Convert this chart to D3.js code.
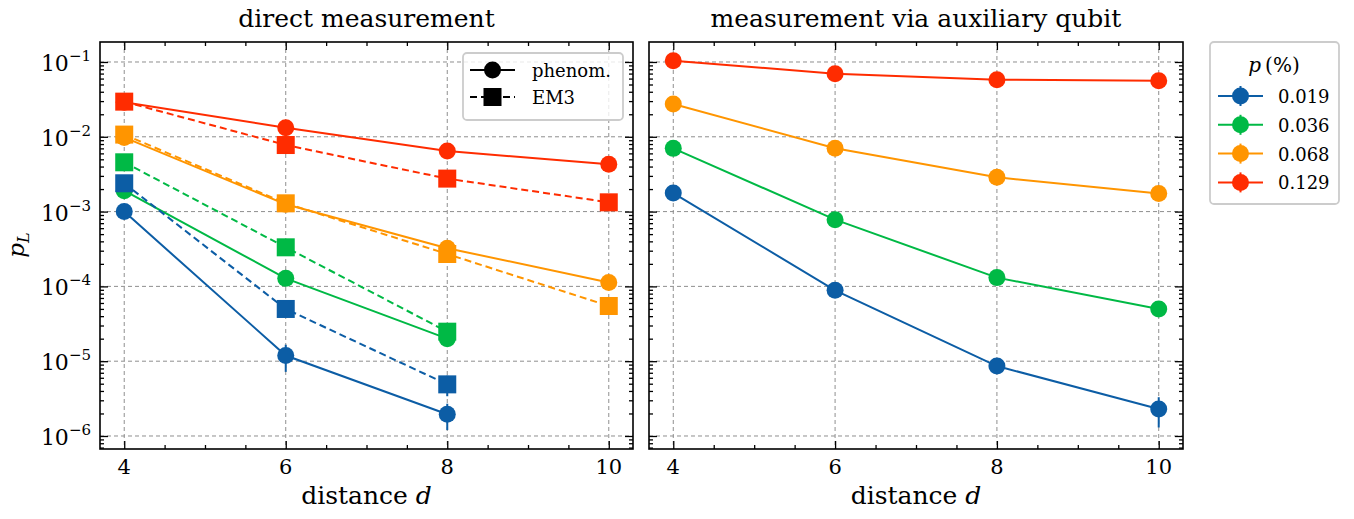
<!DOCTYPE html>
<html>
<head>
<meta charset="utf-8">
<script src="https://cdn.jsdelivr.net/npm/d3@7"></script>
<style>
  body { margin: 0; background: #fff; }
  text { font-family: "DejaVu Serif", serif; fill: #000; }
</style>
</head>
<body>
<svg id="chart" width="1354" height="519"></svg>
<script>
// ---- data -------------------------------------------------------------
const distances = [4, 6, 8, 10];
const pLabels = ["0.019", "0.036", "0.068", "0.129"];
const seriesColors = ["#0C5DA5", "#00B945", "#FF9500", "#FF2C00"];
const yMajorTicks = [1e-6, 1e-5, 1e-4, 1e-3, 1e-2, 1e-1];
const yTickExponents = ["−6", "−5", "−4", "−3", "−2", "−1"];
const xMajorTicks = [4, 6, 8, 10];

// direct measurement, phenomenological noise model (solid, circles)
const directPhenom019 = [1.0e-3, 1.19e-5, 1.95e-6];
const directPhenom036 = [1.9e-3, 1.28e-4, 2.0e-5];
const directPhenom068 = [9.8e-3, 1.25e-3, 3.24e-4, 1.13e-4];
const directPhenom129 = [2.9e-2, 1.32e-2, 6.46e-3, 4.28e-3];
const directPhenomErr019 = [6e-5, 4.7e-6, 0.75e-6];
const directPhenomErr036 = [1.2e-4, 1.6e-5, 3e-6];
const directPhenomErr068 = [3e-4, 5e-5, 1.5e-5, 8e-6];
const directPhenomErr129 = [5e-4, 2.5e-4, 1e-4, 8e-5];

// direct measurement, EM3 noise model (dashed, squares)
const directEM3_019 = [2.39e-3, 4.99e-5, 4.9e-6];
const directEM3_036 = [4.56e-3, 3.33e-4, 2.48e-5];
const directEM3_068 = [1.07e-2, 1.29e-3, 2.71e-4, 5.47e-5];
const directEM3_129 = [2.95e-2, 7.76e-3, 2.76e-3, 1.33e-3];
const directEM3Err019 = [1e-4, 5e-6, 1.5e-6];
const directEM3Err036 = [1.5e-4, 2e-5, 3.5e-6];
const directEM3Err068 = [3e-4, 6e-5, 1.5e-5, 5e-6];
const directEM3Err129 = [6e-4, 2.5e-4, 9e-5, 5e-5];

// measurement via auxiliary qubit (solid, circles)
const aux019 = [1.77e-3, 8.85e-5, 8.6e-6, 2.3e-6];
const aux036 = [7.0e-3, 7.8e-4, 1.31e-4, 4.99e-5];
const aux068 = [2.75e-2, 7.01e-3, 2.87e-3, 1.74e-3];
const aux129 = [1.04e-1, 6.98e-2, 5.8e-2, 5.6e-2];
const auxErr019 = [1e-4, 8e-6, 1.5e-6, 1.0e-6];
const auxErr036 = [2e-4, 4e-5, 1.2e-5, 6e-6];
const auxErr068 = [5e-4, 2e-4, 1e-4, 7e-5];
const auxErr129 = [1.5e-3, 1e-3, 9e-4, 9e-4];

// ---- layout -----------------------------------------------------------
const svg = d3.select("#chart");
const plotTop = 42, plotBottom = 449;
const yScale = d3.scaleLog().domain([6.7e-7, 0.185]).range([plotBottom, plotTop]);
const xDomain = [3.7, 10.3];
const xLeft = d3.scaleLinear().domain(xDomain).range([100, 633]);
const xRight = d3.scaleLinear().domain(xDomain).range([649, 1183]);

const CIRCLE_R = 8.5, SQUARE = 18, LW = 2;

// minor log ticks (2..9 within each decade inside the domain)
const yMinorTicks = [];
[1e-7, 1e-6, 1e-5, 1e-4, 1e-3, 1e-2, 1e-1].forEach(b => {
  for (let k = 2; k <= 9; k++) {
    const v = b * k;
    if (v >= yScale.domain()[0] && v <= yScale.domain()[1]) yMinorTicks.push(v);
  }
});
const xMinorTicks = d3.range(4, 10.3, 0.5).filter(v => !xMajorTicks.includes(v));

function drawGrid(g, x) {
  const [x0, x1] = x.range();
  const grid = g.append("g").attr("stroke", "#8f8f8f").attr("stroke-width", 1)
    .attr("stroke-dasharray", "4,3");
  yMajorTicks.forEach(v => grid.append("line")
    .attr("x1", x0).attr("x2", x1).attr("y1", yScale(v)).attr("y2", yScale(v)));
  xMajorTicks.forEach(v => grid.append("line")
    .attr("x1", x(v)).attr("x2", x(v)).attr("y1", plotTop).attr("y2", plotBottom));
}

function drawAxes(g, x, showYLabels) {
  const [x0, x1] = x.range();
  const tickStyle = sel => {
    sel.select(".domain").remove();
    sel.selectAll(".tick line").attr("stroke", "#000").attr("stroke-width", 1.3);
    sel.selectAll(".tick text").remove();
  };
  // x major/minor ticks, bottom and top, pointing inward
  g.append("g").attr("transform", `translate(0,${plotBottom})`)
    .call(d3.axisBottom(x).tickValues(xMajorTicks).tickSize(-8)).call(tickStyle);
  g.append("g").attr("transform", `translate(0,${plotBottom})`)
    .call(d3.axisBottom(x).tickValues(xMinorTicks).tickSize(-4)).call(tickStyle);
  g.append("g").attr("transform", `translate(0,${plotTop})`)
    .call(d3.axisTop(x).tickValues(xMajorTicks).tickSize(-8)).call(tickStyle);
  g.append("g").attr("transform", `translate(0,${plotTop})`)
    .call(d3.axisTop(x).tickValues(xMinorTicks).tickSize(-4)).call(tickStyle);
  // y major/minor ticks, left and right
  g.append("g").attr("transform", `translate(${x0},0)`)
    .call(d3.axisLeft(yScale).tickValues(yMajorTicks).tickSize(-8)).call(tickStyle);
  g.append("g").attr("transform", `translate(${x0},0)`)
    .call(d3.axisLeft(yScale).tickValues(yMinorTicks).tickSize(-4)).call(tickStyle);
  g.append("g").attr("transform", `translate(${x1},0)`)
    .call(d3.axisRight(yScale).tickValues(yMajorTicks).tickSize(-8)).call(tickStyle);
  g.append("g").attr("transform", `translate(${x1},0)`)
    .call(d3.axisRight(yScale).tickValues(yMinorTicks).tickSize(-4)).call(tickStyle);

  // frame
  g.append("rect").attr("x", x0).attr("y", plotTop)
    .attr("width", x1 - x0).attr("height", plotBottom - plotTop)
    .attr("fill", "none").attr("stroke", "#000").attr("stroke-width", 1.6);

  // x tick labels
  xMajorTicks.forEach(v => g.append("text")
    .attr("x", x(v)).attr("y", plotBottom + 25).attr("text-anchor", "middle")
    .attr("font-size", 21).text(v));

  // y tick labels 10^n
  if (showYLabels) {
    yMajorTicks.forEach((v, i) => {
      const t = g.append("text").attr("x", x0 - 9).attr("y", yScale(v) + 9)
        .attr("text-anchor", "end").attr("font-size", 22);
      t.append("tspan").text("10");
      t.append("tspan").attr("font-size", 15).attr("dy", -10).text(yTickExponents[i]);
    });
  }

  // x label
  const xl = g.append("text").attr("x", (x0 + x1) / 2).attr("y", 504)
    .attr("text-anchor", "middle").attr("font-size", 25);
  xl.append("tspan").text("distance ");
  xl.append("tspan").attr("font-style", "italic").text("d");
}

function drawSeries(g, x, values, errors, color, shape, dashed) {
  const pts = values.map((v, i) => ({ d: distances[i], v, e: errors[i] }));
  const line = d3.line().x(p => x(p.d)).y(p => yScale(p.v));
  g.append("path").datum(pts).attr("d", line)
    .attr("fill", "none").attr("stroke", color).attr("stroke-width", LW)
    .attr("stroke-dasharray", dashed ? "7,4" : null);
  // error bars
  g.append("g").selectAll("line").data(pts).join("line")
    .attr("x1", p => x(p.d)).attr("x2", p => x(p.d))
    .attr("y1", p => yScale(p.v + p.e))
    .attr("y2", p => yScale(Math.max(p.v - p.e, 1e-9)))
    .attr("stroke", color).attr("stroke-width", LW);
  // markers
  if (shape === "circle") {
    g.append("g").selectAll("circle").data(pts).join("circle")
      .attr("cx", p => x(p.d)).attr("cy", p => yScale(p.v))
      .attr("r", CIRCLE_R).attr("fill", color);
  } else {
    g.append("g").selectAll("rect").data(pts).join("rect")
      .attr("x", p => x(p.d) - SQUARE / 2).attr("y", p => yScale(p.v) - SQUARE / 2)
      .attr("width", SQUARE).attr("height", SQUARE).attr("fill", color);
  }
}

// ---- left panel: direct measurement ----------------------------------
const gL = svg.append("g");
drawGrid(gL, xLeft);
const phenomSets = [directPhenom019, directPhenom036, directPhenom068, directPhenom129];
const phenomErrs = [directPhenomErr019, directPhenomErr036, directPhenomErr068, directPhenomErr129];
const em3Sets = [directEM3_019, directEM3_036, directEM3_068, directEM3_129];
const em3Errs = [directEM3Err019, directEM3Err036, directEM3Err068, directEM3Err129];
phenomSets.forEach((s, i) => drawSeries(gL, xLeft, s, phenomErrs[i], seriesColors[i], "circle", false));
em3Sets.forEach((s, i) => drawSeries(gL, xLeft, s, em3Errs[i], seriesColors[i], "square", true));
drawAxes(gL, xLeft, true);

// ---- right panel: measurement via auxiliary qubit --------------------
const gR = svg.append("g");
drawGrid(gR, xRight);
const auxSets = [aux019, aux036, aux068, aux129];
const auxErrs = [auxErr019, auxErr036, auxErr068, auxErr129];
auxSets.forEach((s, i) => drawSeries(gR, xRight, s, auxErrs[i], seriesColors[i], "circle", false));
drawAxes(gR, xRight, false);

// ---- titles and y label ----------------------------------------------
svg.append("text").attr("x", d3.mean(xLeft.range())).attr("y", 27)
  .attr("text-anchor", "middle").attr("font-size", 25).text("direct measurement");
svg.append("text").attr("x", d3.mean(xRight.range())).attr("y", 27)
  .attr("text-anchor", "middle").attr("font-size", 25).text("measurement via auxiliary qubit");

const yl = svg.append("text").attr("transform", "translate(24,245) rotate(-90)")
  .attr("text-anchor", "middle").attr("font-size", 23);
yl.append("tspan").attr("font-style", "italic").text("p");
yl.append("tspan").attr("font-style", "italic").attr("font-size", 16).attr("dy", 5).text("L");

// ---- legend: noise models (inside left panel) ------------------------
const lg1 = svg.append("g");
lg1.append("rect").attr("x", 463).attr("y", 53).attr("width", 160).attr("height", 67)
  .attr("rx", 4).attr("fill", "#fff").attr("fill-opacity", 0.8)
  .attr("stroke", "#cccccc").attr("stroke-width", 1.8);
const modelNames = ["phenom.", "EM3"];
const modelShapes = ["circle", "square"];
modelNames.forEach((name, i) => {
  const cy = 70 + i * 27;
  lg1.append("line").attr("x1", 470).attr("x2", 515).attr("y1", cy).attr("y2", cy)
    .attr("stroke", "#000").attr("stroke-width", LW)
    .attr("stroke-dasharray", modelShapes[i] === "square" ? "7,4" : null);
  if (modelShapes[i] === "circle") {
    lg1.append("circle").attr("cx", 492.5).attr("cy", cy).attr("r", CIRCLE_R).attr("fill", "#000");
  } else {
    lg1.append("rect").attr("x", 492.5 - SQUARE / 2).attr("y", cy - SQUARE / 2)
      .attr("width", SQUARE).attr("height", SQUARE).attr("fill", "#000");
  }
  lg1.append("text").attr("x", 532).attr("y", cy + 7).attr("font-size", 18).text(name);
});

// ---- legend: error rates (outside right panel) -----------------------
const lg2 = svg.append("g");
lg2.append("rect").attr("x", 1210).attr("y", 42).attr("width", 129).attr("height", 162)
  .attr("rx", 4).attr("fill", "#fff").attr("stroke", "#cccccc").attr("stroke-width", 1.8);
const lt = lg2.append("text").attr("x", 1274).attr("y", 72).attr("text-anchor", "middle")
  .attr("font-size", 20);
lt.append("tspan").attr("font-style", "italic").text("p");
lt.append("tspan").text("\u2009(%)");
pLabels.forEach((lab, i) => {
  const cy = 96 + i * 28.8;
  lg2.append("line").attr("x1", 1218).attr("x2", 1263).attr("y1", cy).attr("y2", cy)
    .attr("stroke", seriesColors[i]).attr("stroke-width", LW);
  lg2.append("line").attr("x1", 1240.5).attr("x2", 1240.5).attr("y1", cy - 10).attr("y2", cy + 10)
    .attr("stroke", seriesColors[i]).attr("stroke-width", LW);
  lg2.append("circle").attr("cx", 1240.5).attr("cy", cy).attr("r", CIRCLE_R).attr("fill", seriesColors[i]);
  lg2.append("text").attr("x", 1278).attr("y", cy + 7).attr("font-size", 18).text(lab);
});
</script>
</body>
</html>
